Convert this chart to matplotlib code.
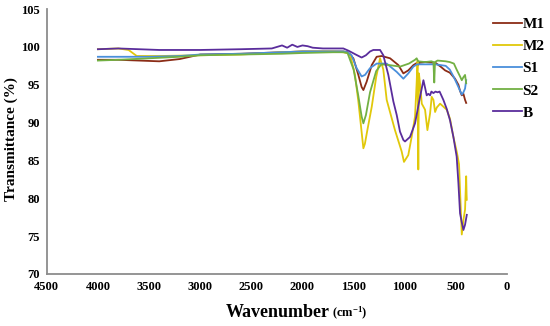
import matplotlib
matplotlib.use('Agg')
import matplotlib.pyplot as plt

plt.rcParams['font.family'] = ['Liberation Serif', 'DejaVu Serif']
plt.rcParams['font.weight'] = 'bold'
plt.rcParams['mathtext.fontset'] = 'custom'
plt.rcParams['mathtext.rm'] = 'Liberation Serif:bold'
plt.rcParams['mathtext.bf'] = 'Liberation Serif:bold'

# FTIR spectra (wavenumber cm-1, transmittance %)
wn_m1 = [4000, 3800, 3600, 3400, 3200, 3000, 2600, 2200, 2000, 1700, 1600, 1560, 1503, 1454, 1422, 1405,
         1373, 1323, 1275, 1226, 1144, 1063, 1014, 966, 916, 880, 870, 860, 800, 700, 650, 606, 560,
         509, 476, 460, 443, 427, 411, 400]
t_m1 = [98.3, 98.3, 98.2, 98.1, 98.4, 99.0, 99.1, 99.3, 99.4, 99.4, 99.4, 99.3, 98.5, 96.3, 94.7, 94.3,
        95.4, 97.6, 98.7, 98.8, 98.5, 97.6, 96.5, 96.9, 97.6, 97.9, 97.6, 97.9, 98.0, 97.9, 97.4, 96.9, 96.6,
        95.8, 95.0, 94.2, 93.6, 93.8, 93.0, 92.6]

wn_m2 = [4000, 3800, 3700, 3620, 3400, 3000, 2600, 2200, 2000, 1700, 1600, 1536, 1487, 1454, 1420, 1405,
         1390, 1366, 1323, 1280, 1242, 1210, 1177, 1096, 1031, 1008, 966, 933, 900, 885, 875, 868, 862,
         850, 834, 802, 779, 753, 737, 720, 704, 687, 655, 590, 558, 525, 490, 470, 443, 427, 411, 400,
         396, 394]
t_m2 = [99.7, 99.8, 99.6, 98.8, 98.8, 98.9, 99.0, 99.3, 99.4, 99.4, 99.3, 99.1, 96.3, 92.8, 88.5, 86.6,
        87.2, 89.0, 92.1, 96.0, 98.5, 97.0, 93.0, 89.0, 86.2, 84.8, 85.7, 88.1, 90.8, 95.0, 98.2, 83.8, 96.5,
        95.0, 92.5, 91.7, 89.0, 91.2, 93.4, 93.0, 91.4, 92.0, 92.5, 91.7, 90.5, 88.1, 86.0, 84.5, 75.2, 77.1,
        78.5, 82.9, 80.5, 79.8]

wn_s1 = [4000, 3800, 3500, 3200, 3000, 2600, 2200, 2000, 1700, 1600, 1560, 1520, 1471, 1422, 1389, 1340,
         1275, 1177, 1079, 1014, 966, 916, 880, 800, 700, 600, 560, 520, 493, 476, 460, 443, 427, 411, 400]
t_s1 = [98.7, 98.7, 98.7, 98.8, 99.0, 99.1, 99.3, 99.4, 99.4, 99.4, 99.3, 98.9, 97.2, 96.1, 96.3, 97.2,
        97.8, 97.8, 96.7, 95.8, 96.5, 97.4, 97.7, 97.7, 97.7, 97.5, 97.0, 96.0, 95.2, 94.7, 94.2, 93.7, 94.0,
        94.5, 95.6]

wn_s2 = [4000, 3800, 3500, 3200, 3000, 2600, 2200, 2000, 1700, 1600, 1560, 1500, 1454, 1422, 1405, 1380,
         1340, 1280, 1230, 1150, 1046, 960, 900, 884, 870, 800, 740, 720, 712, 705, 680, 600, 560, 520,
         493, 460, 443, 427, 411, 400]
t_s2 = [98.2, 98.3, 98.5, 98.7, 98.9, 99.0, 99.1, 99.2, 99.3, 99.3, 99.2, 97.0, 93.5, 90.8, 89.9, 91.0,
        94.0, 96.8, 97.7, 97.6, 97.4, 97.8, 98.3, 98.5, 98.1, 98.0, 98.1, 98.0, 95.3, 98.0, 98.2, 98.1, 98.0,
        97.8, 97.0, 96.1, 95.6, 96.0, 96.3, 95.2]

wn_b = [4000, 3800, 3600, 3400, 3000, 2600, 2300, 2200, 2150, 2100, 2050, 2000, 1950, 1900, 1800, 1700,
        1601, 1550, 1480, 1422, 1380, 1340, 1308, 1242, 1210, 1161, 1112, 1079, 1047, 1014, 998, 949, 900,
        851, 830, 818, 800, 786, 770, 753, 740, 720, 700, 680, 660, 623, 590, 558, 525, 493, 476, 460, 443,
        427, 411, 394]
t_b = [99.7, 99.8, 99.7, 99.6, 99.6, 99.7, 99.8, 100.2, 99.9, 100.3, 100.0, 100.2, 100.1, 99.9, 99.8, 99.8,
       99.8, 99.5, 99.0, 98.6, 98.9, 99.4, 99.6, 99.6, 98.9, 96.3, 92.8, 91.0, 88.8, 87.7, 87.5, 88.1, 89.9,
       93.4, 94.8, 95.6, 94.5, 93.6, 93.8, 93.6, 94.1, 93.9, 94.1, 94.0, 94.1, 93.0, 91.8, 90.3, 88.1, 85.5,
       82.0, 78.0, 76.8, 75.8, 76.5, 77.8]

series = [
    ('M1', wn_m1, t_m1, '#8B2C16'),
    ('M2', wn_m2, t_m2, '#E1C80A'),
    ('S1', wn_s1, t_s1, '#4A8FDB'),
    ('S2', wn_s2, t_s2, '#72B043'),
    ('B', wn_b, t_b, '#5A2D9C'),
]

fig = plt.figure(figsize=(5.5, 3.26), dpi=100)
ax = fig.add_axes([0.085, 0.160, 0.837, 0.812])

for name, wn, t, color in series:
    ax.plot(wn, t, color=color, lw=1.3, label=name)

ax.set_xlim(4500, 0)
ax.set_ylim(70, 105)
ax.set_xticks(range(4500, -1, -500))
ax.set_yticks(range(70, 106, 5))
ax.tick_params(length=0, labelsize=9, pad=5)
for lbl in ax.get_xticklabels() + ax.get_yticklabels():
    lbl.set_fontweight('bold')

for side in ['top', 'right']:
    ax.spines[side].set_visible(False)
for side in ['left', 'bottom']:
    ax.spines[side].set_color('#8c8c8c')
    ax.spines[side].set_linewidth(1.3)

ax.set_ylabel('Transmittance (%)', fontsize=11, fontweight='bold')
ax.yaxis.set_label_coords(-0.062, 0.51)
fig.text(0.600, 0.028, 'Wavenumber', fontsize=13, fontweight='bold', ha='right', va='baseline')
fig.text(0.604, 0.028, r'$\mathbf{(cm^{-1})}$', fontsize=9, ha='left', va='baseline')

leg = fig.legend(loc='upper left', bbox_to_anchor=(0.885, 0.965), frameon=False,
                 prop={'family': 'Liberation Serif', 'weight': 'bold', 'size': 11},
                 handlelength=1.9, handletextpad=0.05, labelspacing=0.55, borderaxespad=0)

fig.savefig('out.png', dpi=100)
